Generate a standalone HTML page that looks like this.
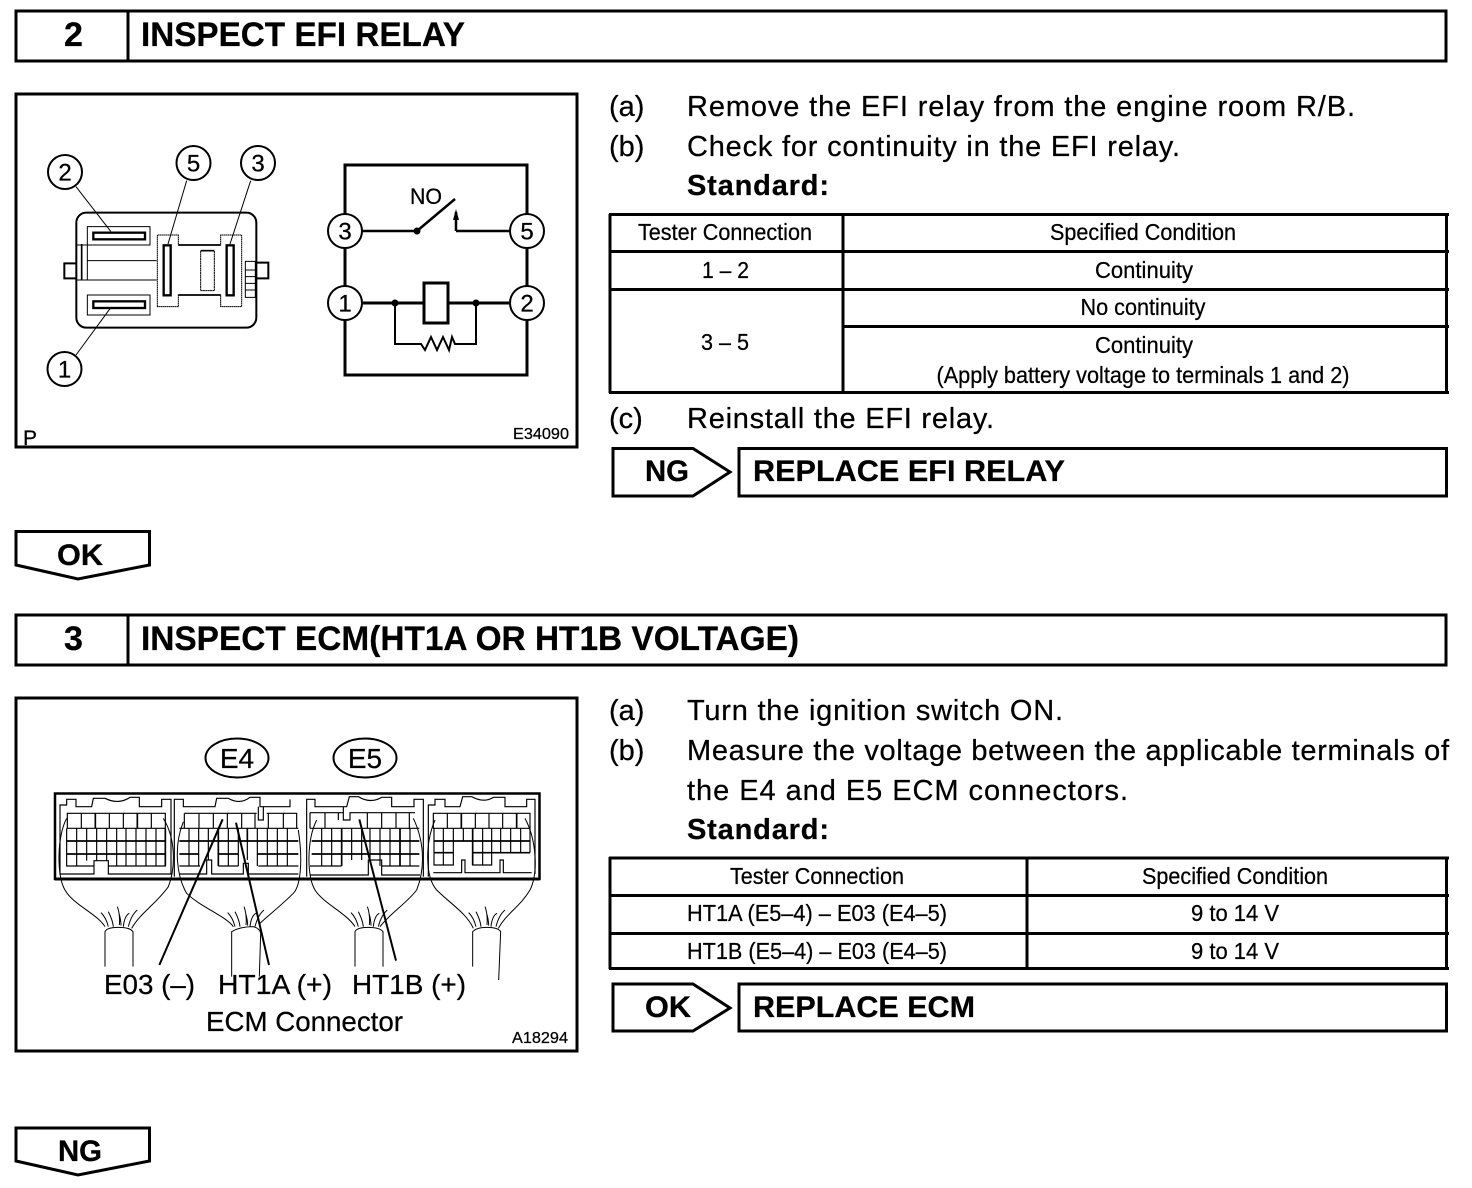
<!DOCTYPE html>
<html><head><meta charset="utf-8"><title>Inspect EFI Relay / ECM</title>
<style>
html,body{margin:0;padding:0;background:#fff}
svg{display:block}
text{font-family:"Liberation Sans",sans-serif;fill:#000;stroke:#000;stroke-width:.25}
.b{font-weight:bold}
.h{font-weight:bold;font-size:34px}
.p{font-size:29px}
.t{font-size:23.5px;text-anchor:middle}
.n{font-size:24px;text-anchor:middle}
.a{font-weight:bold;font-size:30px}
.l{font-size:28px}
.s{fill:none;stroke:#000}
</style></head><body>
<svg xmlns="http://www.w3.org/2000/svg" width="1472" height="1188" viewBox="0 0 1472 1188">
<defs>
<g id="strands" class="s" stroke-width="3">
<path d="M10,0C5,-20 -5,-35 -12,-42M25,0C23,-20 15,-35 10,-45M43,-5C45,-20 43,-45 37,-60M48,-3C48,-15 45,-30 42,-40M55,0C57,-20 63,-35 73,-40M70,0C75,-20 85,-40 97,-50"/>
</g>
</defs>

<!-- Section 2 header -->
<rect x="16" y="11" width="1430" height="50" class="s" stroke-width="3"/>
<line x1="128" y1="11" x2="128" y2="61" class="s" stroke-width="3"/>
<text x="73.500" y="46" class="h" text-anchor="middle">2</text>
<text x="141" y="46" class="h" textLength="324" lengthAdjust="spacingAndGlyphs">INSPECT EFI RELAY</text>

<!-- Relay figure -->
<rect x="16" y="94" width="561" height="353" class="s" stroke-width="3"/>
<g transform="translate(10,90) scale(.33333)" class="s">
<rect x="199" y="368" width="540" height="345" rx="30" stroke-width="6"/>
<path d="M200,465H232V570H200M232,465V410H420V465H232M232,570H440M232,512H440M232,615H420V675H232Z" stroke-width="3"/>
<path d="M215,462V570" stroke-width="5"/>
<path d="M442,650V435H505V465H632V435H695V650H632V615H505V650Z" stroke-width="3" stroke-dasharray="5 1"/>
<path d="M505,465H632M505,615H632" stroke-width="5"/>
<rect x="250" y="428" width="155" height="20" stroke-width="7"/>
<rect x="250" y="634" width="155" height="20" stroke-width="7"/>
<rect x="461" y="466" width="21" height="150" stroke-width="7"/>
<rect x="650" y="466" width="21" height="150" stroke-width="7"/>
<rect x="572" y="482" width="41" height="120" stroke-width="3" stroke-dasharray="6 1"/>
<path d="M572,482H613" stroke-width="5"/>
<path d="M200,520H163V565H200M738,518H775V565H738" stroke-width="6"/>
<path d="M706,514H736V622H706ZM706,540H736M706,560H736M706,580H736M706,600H736" stroke-width="3"/>
<path d="M198,290L302,424M530,272L474,462M722,272L660,462M300,656L198,795" stroke-width="3"/>
</g>
<g class="s" stroke-width="2">
<circle cx="65" cy="172" r="17"/><circle cx="193.500" cy="163" r="17"/><circle cx="258" cy="163" r="17"/><circle cx="64.500" cy="369" r="17"/>
</g>
<g class="n">
<text x="65" y="180.500">2</text><text x="193.500" y="171.500">5</text><text x="258" y="171.500">3</text><text x="64.500" y="377.500">1</text>
</g>
<text x="23" y="445" font-size="21">P</text>

<!-- Circuit -->
<g class="s" stroke-width="3">
<path d="M345,214V165H527V214M527,248V286M527,320V375H345V320M345,286V248"/>
<path d="M362,231H417L455,199M456,231V212M456,231H510" stroke-width="2.500"/>
<path d="M362,303H423M448,303H510"/>
<rect x="424" y="283" width="24" height="40"/>
<path d="M395,303V344H421L425,350L431,337L437,350L443,337L449,350L452,337L455,344H476V303" stroke-width="2"/>
<circle cx="345" cy="231" r="17" stroke-width="2"/><circle cx="527" cy="231" r="17" stroke-width="2"/><circle cx="345" cy="303" r="17" stroke-width="2"/><circle cx="527" cy="303" r="17" stroke-width="2"/>
</g>
<circle cx="417" cy="231" r="3.500"/><circle cx="395" cy="303" r="3.500"/><circle cx="476" cy="303" r="3.500"/>
<path d="M456,209L453,220H459Z"/>
<g class="n">
<text x="345" y="239.500">3</text><text x="527" y="239.500">5</text><text x="345" y="311.500">1</text><text x="527" y="311.500">2</text>
</g>
<text x="410" y="204" font-size="22.500" textLength="32" lengthAdjust="spacingAndGlyphs">NO</text>
<text x="513" y="439" font-size="15.500" textLength="56" lengthAdjust="spacingAndGlyphs">E34090</text>

<!-- Section 2 instructions -->
<g class="p">
<text x="609" y="116">(a)</text><text x="687" y="116" textLength="668" lengthAdjust="spacing">Remove the EFI relay from the engine room R/B.</text>
<text x="609" y="156">(b)</text><text x="687" y="156" textLength="493" lengthAdjust="spacing">Check for continuity in the EFI relay.</text>
<text x="687" y="195" class="b" textLength="142" lengthAdjust="spacing">Standard:</text>
<text x="609" y="428">(c)</text><text x="687" y="428" textLength="307" lengthAdjust="spacing">Reinstall the EFI relay.</text>
</g>

<!-- Table 1 -->
<g class="s" stroke-width="3">
<path d="M609,214.500H1449M609,251.500H1449M609,289.500H1449M843,326.500H1449M609,392.500H1449M610,214V393M843,214V393M1446.500,214V393"/>
</g>
<g class="t">
<text x="725" y="240" textLength="174" lengthAdjust="spacingAndGlyphs">Tester Connection</text>
<text x="1143" y="240" textLength="186" lengthAdjust="spacingAndGlyphs">Specified Condition</text>
<text x="725.500" y="278" textLength="47" lengthAdjust="spacingAndGlyphs">1 – 2</text>
<text x="1144" y="278" textLength="98" lengthAdjust="spacingAndGlyphs">Continuity</text>
<text x="1143" y="315" textLength="125" lengthAdjust="spacingAndGlyphs">No continuity</text>
<text x="725" y="350" textLength="48" lengthAdjust="spacingAndGlyphs">3 – 5</text>
<text x="1144" y="353" textLength="98" lengthAdjust="spacingAndGlyphs">Continuity</text>
<text x="1143" y="383" textLength="413" lengthAdjust="spacingAndGlyphs">(Apply battery voltage to terminals 1 and 2)</text>
</g>

<!-- NG action -->
<path d="M613,448.500H693L730,472L693,496H613Z" class="s" stroke-width="3"/>
<rect x="739" y="448.500" width="707.500" height="47.500" class="s" stroke-width="3"/>
<text x="645" y="481" class="a" textLength="44" lengthAdjust="spacingAndGlyphs">NG</text>
<text x="753" y="481" class="a" textLength="312" lengthAdjust="spacingAndGlyphs">REPLACE EFI RELAY</text>

<!-- OK down -->
<path d="M16,531.500H149.500V565L78,579L16,565Z" class="s" stroke-width="3"/>
<text x="57" y="565" class="a" textLength="46" lengthAdjust="spacingAndGlyphs">OK</text>

<!-- Section 3 header -->
<rect x="16" y="615" width="1430" height="50" class="s" stroke-width="3"/>
<line x1="128" y1="615" x2="128" y2="665" class="s" stroke-width="3"/>
<text x="73.500" y="650" class="h" text-anchor="middle">3</text>
<text x="141" y="650" class="h" textLength="658" lengthAdjust="spacingAndGlyphs">INSPECT ECM(HT1A OR HT1B VOLTAGE)</text>

<!-- ECM figure -->
<rect x="16" y="698" width="561" height="353" class="s" stroke-width="3"/>
<ellipse cx="237" cy="758" rx="31.500" ry="19.500" class="s" stroke-width="2"/>
<ellipse cx="365" cy="758" rx="31.500" ry="19.500" class="s" stroke-width="2"/>
<text x="237" y="768" class="l" text-anchor="middle">E4</text>
<text x="365" y="768" class="l" text-anchor="middle">E5</text>
<path d="M55,793.500H539.500V879H55Z" class="s" stroke-width="2.500"/>
<path d="M55,879H539.500" class="s" stroke-width="3"/>

<g transform="translate(40,780) scale(.33333)" class="s">
<!-- connector 1 -->
<path d="M60,282V75H80V58H108V80H155L160,55H195Q235,75 270,52H298V80H365V58H393V282H205V242H162V282Z" stroke-width="3.500"/>
<path d="M82,100H376V145H82ZM124,100V145M166,100V145M208,100V145M250,100V145M292,100V145M334,100V145M80,145V258H162M376,145V258H205M110,145V258M140,145V242M170,145V242M200,145V242M230,145V258M258,145V258M288,145V258M318,145V258M348,145V258" stroke-width="3.500"/>
<path d="M80,183H376M80,222H376M166,100V145M292,100V145M376,145V258" stroke-width="5"/>
<path d="M80,115C50,170 50,290 75,330C100,375 170,400 195,440M370,115C410,180 405,270 385,320C350,370 300,400 275,445M195,560V455Q200,442 235,442Q270,442 279,455V560" stroke-width="3"/>
<use href="#strands" x="195" y="440"/>
<!-- connector 2 -->
<path d="M403,290V58H430V80H525L530,55H565Q600,75 630,52H660V80H750V58" stroke-width="3.500"/>
<path d="M655,80V120H670V80" stroke-width="3.500"/>
<path d="M433,100H650M680,100H770V145H433V100M477,100V145M520,100V145M562,100V145M605,100V145M645,100V145M685,100V145M730,100V145M418,145H775M418,258H480M535,258H595M655,258H775M447,145V258M476,145V258M505,145V240M535,145V258M565,145V258M595,145V258M622,145V240M652,145V258M682,145V258M712,145V258M742,145V258M418,282H500V240H515V282H610V250H625V282H775" stroke-width="3.500"/>
<path d="M418,183H775M418,222H475M535,222H595M652,222H775M535,145V258M622,145V183" stroke-width="5"/>
<path d="M430,125C400,200 410,290 440,340C480,380 560,410 580,440M775,150C790,250 780,320 760,340C720,380 680,410 660,430M575,590V455Q600,440 640,440Q660,445 662,460L658,590" stroke-width="3"/>
<use href="#strands" x="575" y="440"/>
<!-- leaders -->
<path d="M548,118L358,555M588,128L687,555" stroke-width="6"/>
</g>

<g transform="translate(290,780) scale(.33333)" class="s">
<!-- connector 3 -->
<path d="M50,290V58H75V80H170L178,50H205Q240,72 275,52H305V80H372V58H400V290" stroke-width="3.500"/>
<path d="M160,80V120H180V98H375M60,98H160M60,98V145M105,98V145M145,98V120M232,98V145M275,98V145M318,98V145M358,98V145M60,145H388M60,258H155M275,258H388M95,145V258M125,145V258M155,145V258M185,145V240M215,145V240M240,145V240M270,145V258M300,145V258M330,145V258M360,145V258M60,285H235V240H275V285H390" stroke-width="3.500"/>
<path d="M65,183H388M65,222H388M155,145V258M330,145V258" stroke-width="5"/>
<path d="M80,120C50,180 50,290 75,330C100,370 170,400 195,440M370,115C410,200 400,280 380,330C350,370 300,400 270,440M195,560V455Q200,442 235,442Q270,442 279,455V560" stroke-width="3"/>
<use href="#strands" x="195" y="440"/>
<!-- connector 4 -->
<path d="M415,290V75H435V58H465V80H510L518,50H545Q580,70 610,52H645V80H710V58H735V282" stroke-width="3.500"/>
<path d="M430,100H720V145H430ZM472,100V145M514,100V145M556,100V145M597,100V145M638,100V145M680,100V145M432,145H720M432,145V255H490V145M460,145V255M520,145V183M548,145V255H605V145M578,145V255M632,145V218M662,145V218M692,145V218M720,145V218M432,218H490M548,218H720M430,278H515V240H525V278H630V240H640V278H725" stroke-width="3.500"/>
<path d="M432,183H720M432,218H490M548,218H720M514,100V145M680,100V145M548,145V255" stroke-width="5"/>
<path d="M435,120C405,190 405,290 440,330C480,370 530,400 550,445M705,115C740,180 745,280 720,330C690,380 650,400 625,445M548,560V455Q560,442 590,442Q625,442 632,455L626,600" stroke-width="3"/>
<use href="#strands" x="548" y="440"/>
<!-- leader -->
<path d="M208,118L318,542" stroke-width="6"/>
</g>

<text x="104" y="994" class="l" textLength="91" lengthAdjust="spacingAndGlyphs">E03 (–)</text>
<text x="218" y="994" class="l" textLength="114" lengthAdjust="spacingAndGlyphs">HT1A (+)</text>
<text x="352" y="994" class="l" textLength="114" lengthAdjust="spacingAndGlyphs">HT1B (+)</text>
<text x="206" y="1031" class="l" textLength="197" lengthAdjust="spacingAndGlyphs">ECM Connector</text>
<text x="512" y="1043" font-size="15.500" textLength="56" lengthAdjust="spacingAndGlyphs">A18294</text>

<!-- Section 3 instructions -->
<g class="p">
<text x="609" y="720">(a)</text><text x="687" y="720" textLength="376" lengthAdjust="spacing">Turn the ignition switch ON.</text>
<text x="609" y="760">(b)</text><text x="687" y="760" textLength="762" lengthAdjust="spacing">Measure the voltage between the applicable terminals of</text>
<text x="687" y="800" textLength="441" lengthAdjust="spacing">the E4 and E5 ECM connectors.</text>
<text x="687" y="839" class="b" textLength="142" lengthAdjust="spacing">Standard:</text>
</g>

<!-- Table 2 -->
<g class="s" stroke-width="3">
<path d="M609,858H1449M609,895.500H1449M609,933.500H1449M609,968.500H1449M610,857V969M1027,857V969M1446.500,857V969"/>
</g>
<g class="t">
<text x="817" y="884" textLength="174" lengthAdjust="spacingAndGlyphs">Tester Connection</text>
<text x="1235" y="884" textLength="186" lengthAdjust="spacingAndGlyphs">Specified Condition</text>
<text x="817" y="921" textLength="260" lengthAdjust="spacingAndGlyphs">HT1A (E5–4) – E03 (E4–5)</text>
<text x="1235" y="921" textLength="88" lengthAdjust="spacingAndGlyphs">9 to 14 V</text>
<text x="817" y="959" textLength="260" lengthAdjust="spacingAndGlyphs">HT1B (E5–4) – E03 (E4–5)</text>
<text x="1235" y="959" textLength="88" lengthAdjust="spacingAndGlyphs">9 to 14 V</text>
</g>

<!-- OK action -->
<path d="M613,984H693L730,1008L693,1031H613Z" class="s" stroke-width="3"/>
<rect x="739" y="984" width="707.500" height="47" class="s" stroke-width="3"/>
<text x="645" y="1017" class="a" textLength="46" lengthAdjust="spacingAndGlyphs">OK</text>
<text x="753" y="1017" class="a" textLength="222" lengthAdjust="spacingAndGlyphs">REPLACE ECM</text>

<!-- NG down -->
<path d="M16,1128H149.500V1161L78,1175L16,1161Z" class="s" stroke-width="3"/>
<text x="58" y="1161" class="a" textLength="44" lengthAdjust="spacingAndGlyphs">NG</text>
</svg>
</body></html>
